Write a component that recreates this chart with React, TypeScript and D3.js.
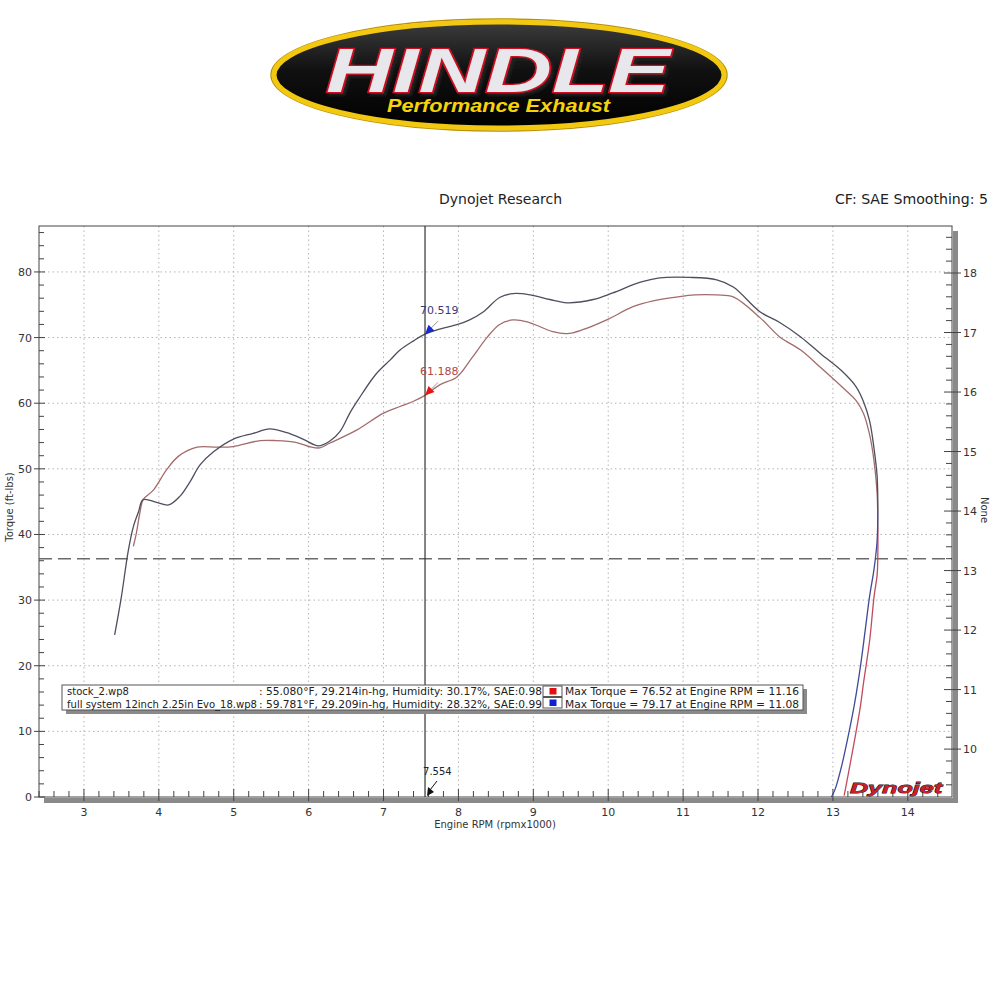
import React from 'react';
import * as d3 from 'd3';

// ---------- data ----------
const xTicks = [3, 4, 5, 6, 7, 8, 9, 10, 11, 12, 13, 14];
const yTicks = [0, 10, 20, 30, 40, 50, 60, 70, 80];
const yRTicks = [10, 11, 12, 13, 14, 15, 16, 17, 18];

// full system run (engine rpm x1000, torque ft-lbs)
const fullRpm = [3.41, 3.5, 3.59, 3.66, 3.73, 3.79, 3.97, 4.13, 4.28, 4.42, 4.55, 4.73, 4.99, 5.26, 5.48, 5.71, 5.93, 6.13, 6.28, 6.42, 6.55, 6.66, 6.89, 7.09, 7.22, 7.4, 7.554, 7.75, 7.99, 8.15, 8.33, 8.55, 8.73, 8.96, 9.22, 9.45, 9.8, 10.06, 10.42, 10.69, 11.08, 11.45, 11.67, 12.03, 12.29, 12.57, 12.84, 13.12, 13.31, 13.41, 13.49, 13.55, 13.59, 13.6, 13.59, 13.55, 13.49, 13.43, 13.37, 13.29, 13.21, 13.12, 13.03, 12.98];
const fullTq = [24.7, 30.5, 37.4, 41.2, 43.5, 45.3, 44.9, 44.5, 45.8, 48.1, 50.6, 52.6, 54.5, 55.4, 56.1, 55.5, 54.5, 53.5, 54.2, 55.7, 58.5, 60.5, 64.3, 66.6, 68.1, 69.5, 70.52, 71.3, 72.0, 72.7, 73.9, 76.1, 76.7, 76.5, 75.8, 75.3, 75.8, 76.8, 78.4, 79.1, 79.17, 78.8, 77.7, 73.9, 72.3, 70.1, 67.5, 64.9, 62.5, 60.2, 57.3, 53.0, 48.9, 43.6, 39.0, 34.8, 30.6, 25.3, 20.1, 14.3, 9.6, 4.9, 1.2, 0];

// stock run
const stockRpm = [3.66, 3.7, 3.75, 3.79, 3.93, 4.1, 4.26, 4.51, 4.77, 4.99, 5.35, 5.57, 5.84, 6.04, 6.15, 6.28, 6.64, 7.0, 7.22, 7.4, 7.554, 7.75, 7.98, 8.18, 8.38, 8.55, 8.73, 8.92, 9.26, 9.45, 9.66, 9.98, 10.33, 10.6, 11.05, 11.16, 11.45, 11.67, 12.03, 12.29, 12.57, 12.84, 13.12, 13.31, 13.41, 13.49, 13.55, 13.59, 13.6, 13.6, 13.59, 13.55, 13.49, 13.41, 13.36, 13.28, 13.21, 13.15];
const stockTq = [38.2, 40.2, 43.5, 45.3, 46.8, 49.8, 51.9, 53.3, 53.3, 53.4, 54.3, 54.3, 54.0, 53.3, 53.2, 53.9, 55.9, 58.5, 59.5, 60.3, 61.19, 62.8, 64.0, 66.9, 70.0, 72.0, 72.7, 72.4, 70.9, 70.6, 71.2, 72.7, 74.7, 75.6, 76.4, 76.52, 76.5, 76.2, 73.0, 70.1, 68.1, 65.4, 62.5, 60.4, 58.4, 55.2, 51.1, 46.3, 41.0, 36.9, 33.8, 30.6, 23.8, 17.5, 13.3, 8.1, 3.8, 0.2];

const runNames = ['stock_2.wp8', 'full system 12inch 2.25in Evo_18.wp8'];
const runInfo = [': 55.080°F, 29.214in-hg, Humidity: 30.17%, SAE:0.98', ': 59.781°F, 29.209in-hg, Humidity: 28.32%, SAE:0.99'];
const runMaxTq = [76.52, 79.17];
const runMaxRpm = [11.16, 11.08];
const runMarkColors = ['#e01010', '#1020d0'];

const cursorRpm = 7.554;
const cursorFull = 70.519;
const cursorStock = 61.188;
const refLineTq = 36.3;

export default function App() {
  const L = 39, R = 952, T = 226, B = 797;
  const x = d3.scaleLinear().domain([2.4, 14.59]).range([L, R]);
  const yL = d3.scaleLinear().domain([0, 87]).range([B, T]);
  const yR = d3.scaleLinear().domain([9.195, 18.79]).range([B, T]);

  const line = d3
    .line<[number, number]>()
    .x((d) => x(d[0]))
    .y((d) => yL(d[1]))
    .curve(d3.curveCatmullRom.alpha(0.5));

  const full: [number, number][] = fullRpm.map((r, i) => [r, fullTq[i]]);
  const stock: [number, number][] = stockRpm.map((r, i) => [r, stockTq[i]]);
  const fMax = fullRpm.indexOf(d3.max(fullRpm) as number);
  const sMax = stockRpm.indexOf(d3.max(stockRpm) as number);

  const xMinor = d3.range(2.4, 14.6, 0.2).filter((v) => Math.abs(v - Math.round(v)) > 0.01);
  const yMinor = d3.range(2, 87, 2).filter((v) => v % 10 !== 0);
  const yRMinor = d3.range(9.4, 18.79, 0.2).filter((v) => Math.abs(v - Math.round(v)) > 0.01);

  const font = 'DejaVu Sans, Verdana, sans-serif';
  const cx = x(cursorRpm);

  const marker = (px: number, py: number, color: string) => (
    <g>
      <line x1={px + 6} y1={py - 6} x2={px + 13} y2={py - 13} stroke="#999" strokeWidth={1} />
      <path d={`M${px},${py} L${px + 9.5},${py - 3.5} L${px + 3.5},${py - 9.5} Z`} fill={color} />
    </g>
  );

  return (
    <svg width={1000} height={1000} style={{ position: 'absolute', left: 0, top: 0, background: '#fff' }}>
      <defs>
        <linearGradient id="logoBg" x1="0" y1="0" x2="0" y2="1">
          <stop offset="0" stopColor="#3c3c3c" />
          <stop offset="0.45" stopColor="#111" />
          <stop offset="1" stopColor="#000" />
        </linearGradient>
        <filter id="txtShadow" x="-5%" y="-20%" width="110%" height="140%">
          <feDropShadow dx="2.5" dy="2.5" stdDeviation="0.8" floodColor="#222" floodOpacity="0.9" />
        </filter>
      </defs>
      <rect x={0} y={0} width={1000} height={1000} fill="#fff" />

      {/* logo */}
      <ellipse cx={499} cy={75} rx={228} ry={56} fill="none" stroke="#b8900a" strokeWidth={1.5} />
      <ellipse cx={499} cy={75} rx={225} ry={53} fill="url(#logoBg)" stroke="#f2c811" strokeWidth={5} />
      <text x={326} y={92} fontFamily="Liberation Sans, Arial, sans-serif" fontWeight="bold" fontStyle="italic" fontSize={63} fill="#e8e8ec" stroke="#cc1020" strokeWidth={2.5} style={{ paintOrder: 'stroke' }} filter="url(#txtShadow)" textLength={344} lengthAdjust="spacingAndGlyphs">HINDLE</text>
      <text x={387} y={112} fontFamily="Liberation Sans, Arial, sans-serif" fontWeight="bold" fontStyle="italic" fontSize={19} fill="#f6d30a" textLength={223} lengthAdjust="spacingAndGlyphs">Performance Exhaust</text>

      {/* titles */}
      <text x={439} y={204} fontFamily={font} fontSize={14} fill="#222" textLength={123} lengthAdjust="spacingAndGlyphs">Dynojet Research</text>
      <text x={835} y={204} fontFamily={font} fontSize={14} fill="#222" textLength={153} lengthAdjust="spacingAndGlyphs">CF: SAE Smoothing: 5</text>

      {/* grid */}
      {xTicks.map((t) => (
        <line key={'gx' + t} x1={x(t)} x2={x(t)} y1={T} y2={B} stroke="#b4b4b4" strokeDasharray="1.5,3" />
      ))}
      {yTicks.filter((t) => t > 0).map((t) => (
        <line key={'gy' + t} x1={L} x2={R} y1={yL(t)} y2={yL(t)} stroke="#b4b4b4" strokeDasharray="1.5,3" />
      ))}

      {/* reference dashed line */}
      <line x1={L} x2={R} y1={yL(refLineTq)} y2={yL(refLineTq)} stroke="#6a6a6a" strokeWidth={1.3} strokeDasharray="13,6" />

      {/* shadows of frame */}
      <rect x={44} y={798} width={914} height={5} fill="#8a8a8a" />
      <rect x={953} y={231} width={5} height={572} fill="#8a8a8a" />

      {/* frame */}
      <rect x={L} y={T} width={R - L} height={B - T} fill="none" stroke="#444" strokeWidth={1} />

      {/* left axis ticks */}
      {yMinor.map((t) => (
        <line key={'ym' + t} x1={L} x2={L + 5} y1={yL(t)} y2={yL(t)} stroke="#444" />
      ))}
      {yTicks.map((t) => (
        <g key={'yt' + t}>
          <line x1={L - 5} x2={L + 6} y1={yL(t)} y2={yL(t)} stroke="#444" />
          <text x={L - 7} y={yL(t) + 4} textAnchor="end" fontFamily={font} fontSize={11} fill="#333">{t}</text>
        </g>
      ))}

      {/* right axis ticks */}
      {yRMinor.map((t) => (
        <line key={'yrm' + t} x1={R - 6} x2={R} y1={yR(t)} y2={yR(t)} stroke="#444" />
      ))}
      {yRTicks.map((t) => (
        <g key={'yrt' + t}>
          <line x1={R - 8} x2={R + 9} y1={yR(t)} y2={yR(t)} stroke="#444" />
          <text x={R + 11} y={yR(t) + 4} fontFamily={font} fontSize={11} fill="#333">{t}</text>
        </g>
      ))}

      {/* bottom axis ticks */}
      {xMinor.map((t) => (
        <line key={'xm' + t.toFixed(1)} x1={x(t)} x2={x(t)} y1={B} y2={B - 6} stroke="#444" />
      ))}
      {xTicks.map((t) => (
        <g key={'xt' + t}>
          <line x1={x(t)} x2={x(t)} y1={B + 4} y2={B - 8} stroke="#444" />
          <text x={x(t)} y={816} textAnchor="middle" fontFamily={font} fontSize={11} fill="#333">{t}</text>
        </g>
      ))}

      {/* axis titles */}
      <text x={495} y={828} textAnchor="middle" fontFamily={font} fontSize={10} fill="#333">Engine RPM (rpmx1000)</text>
      <text transform="translate(13,507) rotate(-90)" textAnchor="middle" fontFamily={font} fontSize={10} fill="#333">Torque (ft-lbs)</text>
      <text transform="translate(981,510) rotate(90)" textAnchor="middle" fontFamily={font} fontSize={10} fill="#333">None</text>

      {/* curves */}
      <path d={line(stock.slice(0, sMax + 1)) || ''} fill="none" stroke="#a26c6c" strokeWidth={1.3} />
      <path d={line(full.slice(0, fMax + 1)) || ''} fill="none" stroke="#4e4e5e" strokeWidth={1.3} />
      <path d={line(stock.slice(sMax)) || ''} fill="none" stroke="#c24a5e" strokeWidth={1.3} />
      <path d={line(full.slice(fMax)) || ''} fill="none" stroke="#3f4a98" strokeWidth={1.3} />

      {/* cursor */}
      <line x1={cx} x2={cx} y1={T} y2={B} stroke="#333" strokeWidth={1.2} />
      {marker(cx, yL(cursorFull), '#1a2ad0')}
      {marker(cx, yL(cursorStock), '#e01818')}
      <text x={cx - 5} y={314} fontFamily={font} fontSize={11} fill="#3a3a78">{cursorFull.toFixed(3)}</text>
      <text x={cx - 5} y={375} fontFamily={font} fontSize={11} fill="#b04848">{cursorStock.toFixed(3)}</text>
      <text x={cx - 2} y={775} fontFamily={font} fontSize={10} fill="#222">{cursorRpm.toFixed(3)}</text>
      <line x1={cx + 12} y1={781} x2={cx + 5} y2={790} stroke="#111" strokeWidth={1} />
      <path d={`M${cx + 2},${B - 1} L${cx + 3},${B - 10} L${cx + 9},${B - 5} Z`} fill="#111" />

      {/* Dynojet logo */}
      <text x={850} y={793} fontFamily="Liberation Sans, Arial, sans-serif" fontWeight="bold" fontStyle="italic" fontSize={15} fill="#cc1f2a" stroke="#111" strokeWidth={0.8} style={{ paintOrder: 'stroke' }} textLength={92} lengthAdjust="spacingAndGlyphs">Dynojet</text>

      {/* legend */}
      <rect x={66} y={689} width={741} height={25} fill="#8a8a8a" />
      <rect x={62} y={685} width={741} height={25} fill="#fff" stroke="#555" strokeWidth={1} />
      {runNames.map((n, i) => {
        const by = 695 + i * 12.5;
        return (
          <g key={'lg' + i}>
            {i === 1 ? (
              <text x={67} y={by} fontFamily={font} fontSize={10} fill="#222" textLength={190} lengthAdjust="spacingAndGlyphs">{n}</text>
            ) : (
              <text x={67} y={by} fontFamily={font} fontSize={10} fill="#222">{n}</text>
            )}
            <text x={259} y={by} fontFamily={font} fontSize={10} fill="#222" textLength={283} lengthAdjust="spacingAndGlyphs">{runInfo[i]}</text>
            <rect x={543} y={686 + i * 11.5} width={19} height={10.5} fill="#fff" stroke="#555" strokeWidth={1} />
            <rect x={549.5} y={688 + i * 11.5} width={7} height={6.5} fill={runMarkColors[i]} />
            <text x={565} y={by} fontFamily={font} fontSize={10} fill="#222" textLength={234} lengthAdjust="spacingAndGlyphs">
              {`Max Torque = ${runMaxTq[i].toFixed(2)} at Engine RPM = ${runMaxRpm[i].toFixed(2)}`}
            </text>
          </g>
        );
      })}
    </svg>
  );
}
